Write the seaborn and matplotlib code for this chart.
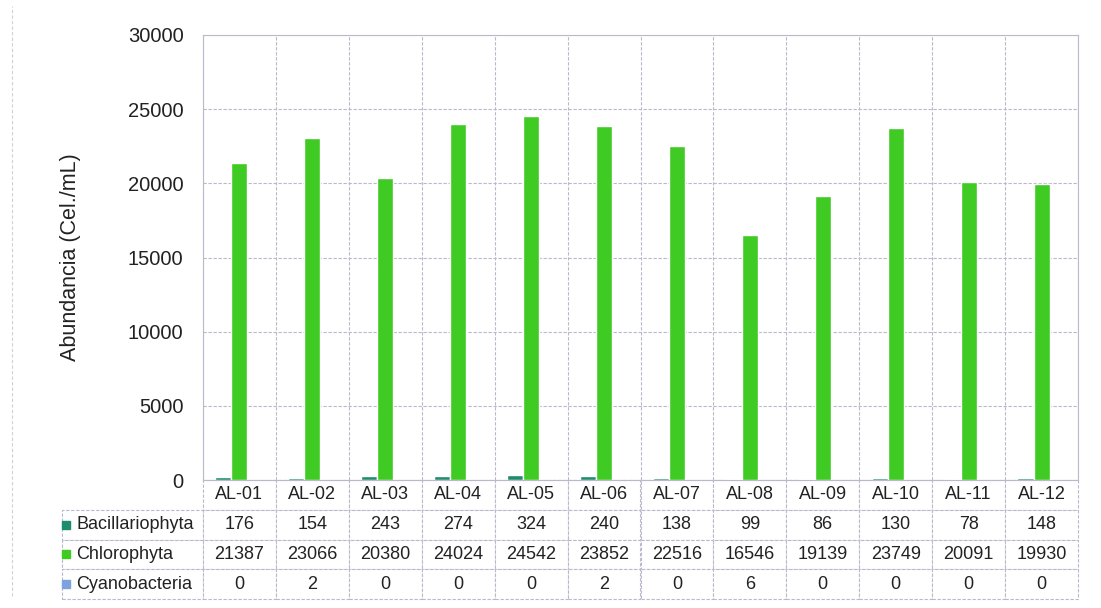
import matplotlib
matplotlib.use('Agg')
import matplotlib.pyplot as plt
import seaborn as sns
import pandas as pd
import numpy as np
from matplotlib.ticker import FixedLocator
from matplotlib.lines import Line2D

stations = ["AL-01", "AL-02", "AL-03", "AL-04", "AL-05", "AL-06",
            "AL-07", "AL-08", "AL-09", "AL-10", "AL-11", "AL-12"]
groups = ["Bacillariophyta", "Chlorophyta", "Cyanobacteria"]
bacillariophyta = [176, 154, 243, 274, 324, 240, 138, 99, 86, 130, 78, 148]
chlorophyta = [21387, 23066, 20380, 24024, 24542, 23852, 22516, 16546, 19139, 23749, 20091, 19930]
cyanobacteria = [0, 2, 0, 0, 0, 2, 0, 6, 0, 0, 0, 0]
colors = ["#1f8c6c", "#3fca24", "#7ea2e0"]

series = [bacillariophyta, chlorophyta, cyanobacteria]
df = pd.DataFrame({
    "Estacion": stations * len(groups),
    "Grupo": [g for g in groups for _ in stations],
    "Abundancia": [v for s in series for v in s],
})

sns.set_theme(style="white")
plt.rcParams['font.family'] = ['Liberation Sans', 'DejaVu Sans']

W, H = 1101, 608
fig = plt.figure(figsize=(W / 100, H / 100), dpi=100)
# plot area in pixels: x 203..1078, y 35..480
ax = fig.add_axes([203 / W, 1 - 480 / H, 875 / W, 445 / H])

sns.barplot(data=df, x="Estacion", y="Abundancia", hue="Grupo",
            hue_order=groups, palette=colors, width=0.66, dodge=True,
            saturation=1, legend=False, ax=ax)

grid_col = "#b9b9cc"
ax.set_xlim(-0.5, len(stations) - 0.5)
ax.set_ylim(0, 30000)
ax.set_yticks(range(0, 30001, 5000))
ax.xaxis.set_minor_locator(FixedLocator(np.arange(-0.5, len(stations), 1)))
ax.set_xticks([])
ax.set_xlabel("")
ax.grid(True, which="major", axis="y", color=grid_col, linestyle=(0, (3, 1.5)), linewidth=0.8)
ax.grid(True, which="minor", axis="x", color=grid_col, linestyle=(0, (3, 1.5)), linewidth=0.8)
ax.set_axisbelow(True)
for sp in ax.spines.values():
    sp.set_color(grid_col)
    sp.set_linewidth(0.8)
ax.tick_params(axis="y", length=0, pad=14, labelsize=14.5, labelcolor="#222222")
ax.tick_params(axis="x", which="both", length=0)

ax.set_ylabel("Abundancia (Cel./mL)", fontsize=15.5, color="#222222")
ax.yaxis.set_label_coords(-0.139, 0.5)

# data table under the chart (grid fitted to the axes width, row labels stick out left)
cell_text = [[str(v) for v in s] for s in series]
label_w = (203 - 56) / 875
tbl_h = (599 - 480) / 445
row_h = tbl_h / 4
table = ax.table(cellText=cell_text, rowLabels=groups, colLabels=stations,
                 cellLoc="center", rowLoc="left",
                 bbox=[0, -tbl_h, 1, tbl_h])
table.auto_set_font_size(False)
table.set_fontsize(13)
for (r, c), cell in table.get_celld().items():
    cell.set_width(label_w if c == -1 else 1 / len(stations))
    cell.set_height(row_h)
    cell.set_edgecolor(grid_col)
    cell.set_linewidth(0.8)
    cell.set_linestyle((0, (3, 1.5)))
    cell.get_text().set_color("#222222")

# legend keys in the row label cells
for i, col in enumerate(colors):
    yc = -(i + 1.5) * row_h
    ax.plot([(65.5 - 203) / 875], [yc], marker="s", markersize=5.5, color=col,
            transform=ax.transAxes, clip_on=False, linestyle="none")

# faint scan border on the left
fig.add_artist(Line2D([12 / W, 12 / W], [0.02, 0.99], color="#d0d0d8",
                      linewidth=0.8, linestyle=(0, (3, 2))))

fig.savefig("out.png", dpi=100)
